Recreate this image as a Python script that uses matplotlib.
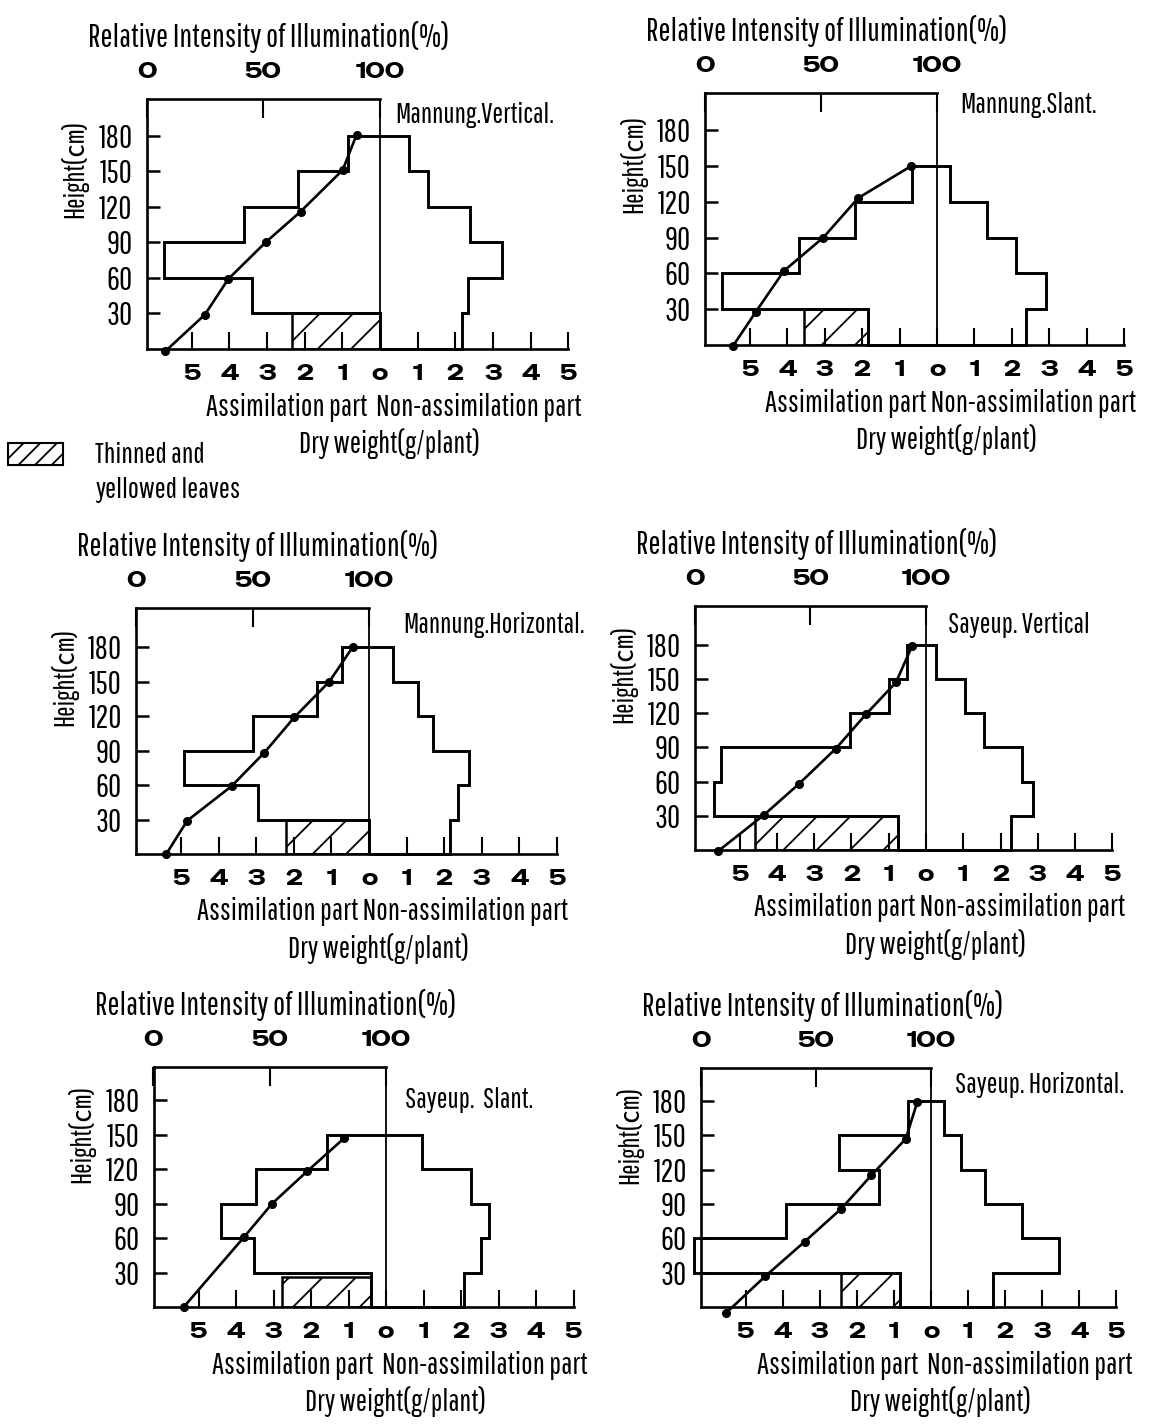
import numpy as np
import matplotlib.pyplot as plt
from matplotlib.patches import Rectangle

plt.rcParams['font.family'] = ['Pathway Gothic One', 'DejaVu Sans', 'Noto Sans CJK JP']
plt.rcParams['hatch.linewidth'] = 1.3

# ---- data ----
layers = [0, 30, 60, 90, 120, 150, 180]   # height classes (cm)

names = ['Mannung.Vertical.', 'Mannung.Slant.', 'Mannung.Horizontal.',
         'Sayeup. Vertical', 'Sayeup.  Slant.', 'Sayeup. Horizontal.']
parts = ['Assimilation part  Non-assimilation part',
         'Assimilation part Non-assimilation part',
         'Assimilation part Non-assimilation part',
         'Assimilation part Non-assimilation part',
         'Assimilation part  Non-assimilation part',
         'Assimilation part  Non-assimilation part']

# dry weight (g/plant) per 30 cm layer, from the ground up
assim = [
    [0.00, 3.40, 5.73, 3.60, 2.18, 0.85],
    [1.84, 5.74, 3.69, 2.19, 0.67, 0.00],
    [0.00, 2.96, 4.93, 3.10, 1.38, 0.72],
    [0.74, 5.69, 5.49, 2.05, 0.99, 0.52],
    [0.39, 3.51, 4.39, 3.48, 1.57, 0.00],
    [0.84, 6.39, 3.90, 1.40, 2.49, 0.63],
]
nonassim = [
    [2.17, 2.33, 3.25, 2.39, 1.27, 0.76],
    [2.38, 2.91, 2.10, 1.34, 0.36, 0.00],
    [2.16, 2.38, 2.67, 1.71, 1.30, 0.63],
    [2.29, 2.88, 2.59, 1.56, 1.04, 0.26],
    [2.08, 2.52, 2.75, 2.27, 0.95, 0.00],
    [1.68, 3.45, 2.46, 1.46, 0.82, 0.36],
]
# thinned and yellowed leaves in the lowest layer: (from, to, top cm)
thinned = [(0.00, 2.33, 30), (1.84, 3.56, 30), (0.00, 2.21, 30),
           (0.74, 4.59, 30), (0.39, 2.77, 26), (0.84, 2.42, 30)]

# relative intensity of illumination (%) at height (cm)
illum_h = [
    [-2, 29, 59, 90, 116, 151, 181],
    [-1, 28, 62, 90, 123, 150],
    [0, 29, 59, 88, 119, 150, 180],
    [-1, 31, 58, 89, 119, 147, 179],
    [0, 61, 90, 118, 147],
    [-5, 27, 57, 86, 115, 147, 179],
]
illum_pct = [
    [8, 25, 35, 51, 66, 84, 90],
    [12, 22, 34, 51, 66, 89],
    [13, 22, 41, 55, 68, 83, 93],
    [10, 30, 45, 61, 74, 87, 94],
    [13, 39, 51, 66, 82],
    [11, 28, 45, 61, 74, 89, 94],
]

xticks = [-5, -4, -3, -2, -1, 0, 1, 2, 3, 4, 5]
xticklabels = ['5', '4', '3', '2', '1', 'o', '1', '2', '3', '4', '5']
yticks = [30, 60, 90, 120, 150, 180]

# ---- layout (pixels in the 1149x1425 picture) ----
W, H = 1149, 1425
boxes = [(146.5, 380, 99, 349), (705, 937, 93, 345), (136, 369, 608, 854),
         (695, 926, 606, 850), (153.5, 386, 1067, 1307), (701, 931, 1068, 1307)]
tops = [211, 211, 214, 214, 209, 209]
name_off = [(15, 16), (23, 12), (34, 17), (22, 19), (19, 33), (24, 17)]
XL = -6.2   # left frame edge on the dry weight scale
XR = 5.0

fig = plt.figure(figsize=(W / 100, H / 100), dpi=100)


def ftext(x, y, s, **kw):
    fig.text(x / W, 1 - y / H, s, **kw)


num_font = dict(family=['Special Gothic Expanded One', 'DejaVu Sans'],
                weight='bold', size=15.5)

for i in range(6):
    L, R, T, B = boxes[i]
    unit = (R - L) / -XL
    wpx = unit * (XR - XL)
    ax = fig.add_axes([L / W, 1 - B / H, wpx / W, (B - T) / H])
    ax.set_xlim(XL, XR)
    ax.set_ylim(0, tops[i])

    ax.spines['right'].set_visible(False)
    ax.spines['top'].set_bounds(XL, 0)
    ax.spines['bottom'].set_bounds(XL, XR)
    for s in ['top', 'bottom', 'left']:
        ax.spines[s].set_linewidth(1.9)
    ax.axvline(0, color='k', lw=1.3)

    ax.set_xticks(xticks)
    ax.set_xticklabels(xticklabels, **num_font)
    ax.tick_params(axis='x', direction='in', length=12, width=1.5, pad=11)
    ax.set_yticks(yticks)
    ax.set_yticklabels([str(v) for v in yticks], size=23)
    ax.tick_params(axis='y', direction='in', length=9, width=1.8, pad=10)

    # assimilation part to the left, non-assimilation part to the right
    n = max(np.nonzero(assim[i])[0].max(), np.nonzero(nonassim[i])[0].max()) + 1
    ax.stairs(-np.array(assim[i][:n]), layers[:n + 1], orientation='horizontal',
              baseline=0, color='k', lw=2.1, clip_on=False)
    ax.stairs(nonassim[i][:n], layers[:n + 1], orientation='horizontal',
              baseline=0, color='k', lw=2.1, clip_on=False)
    lo, hi, top = thinned[i]
    ax.add_patch(Rectangle((-hi, 0), hi - lo, top, facecolor='none',
                           edgecolor='k', hatch='/', lw=1.8))

    # illumination scale on top
    ax2 = ax.twiny()
    ax2.set_xlim(0, 100 * (XR - XL) / -XL)
    for s in ax2.spines.values():
        s.set_visible(False)
    ax2.set_xticks([0, 50, 100])
    ax2.set_xticklabels(['0', '50', '100'], **num_font)
    ax2.tick_params(axis='x', direction='in', length=14, width=1.5, pad=12)
    ax2.plot(illum_pct[i], illum_h[i], color='k', lw=1.9, marker='o', ms=5.5,
             clip_on=False)

    ftext(L + 122, T - 62, 'Relative Intensity of Illumination(%)',
          ha='center', va='center', size=23)
    ftext(R + name_off[i][0], T + name_off[i][1], names[i],
          ha='left', va='center', size=20.5)
    ftext(L - 72, T + 0.28 * (B - T), 'Height(㎝)', rotation=90,
          ha='center', va='center', size=20)
    ftext(R + 14, B + 58, parts[i], ha='center', va='center', size=22)
    ftext(R + 10, B + 95, 'Dry weight(g/plant)', ha='center', va='center',
          size=21.5)

# legend for the hatched boxes
fig.add_artist(Rectangle((8 / W, 1 - 465 / H), 55 / W, 22 / H,
                         transform=fig.transFigure, facecolor='none',
                         edgecolor='k', hatch='//', lw=1.5))
ftext(95, 455, 'Thinned and', ha='left', va='center', size=21)
ftext(95, 490, 'yellowed leaves', ha='left', va='center', size=21)

fig.savefig('out.png', dpi=100)
